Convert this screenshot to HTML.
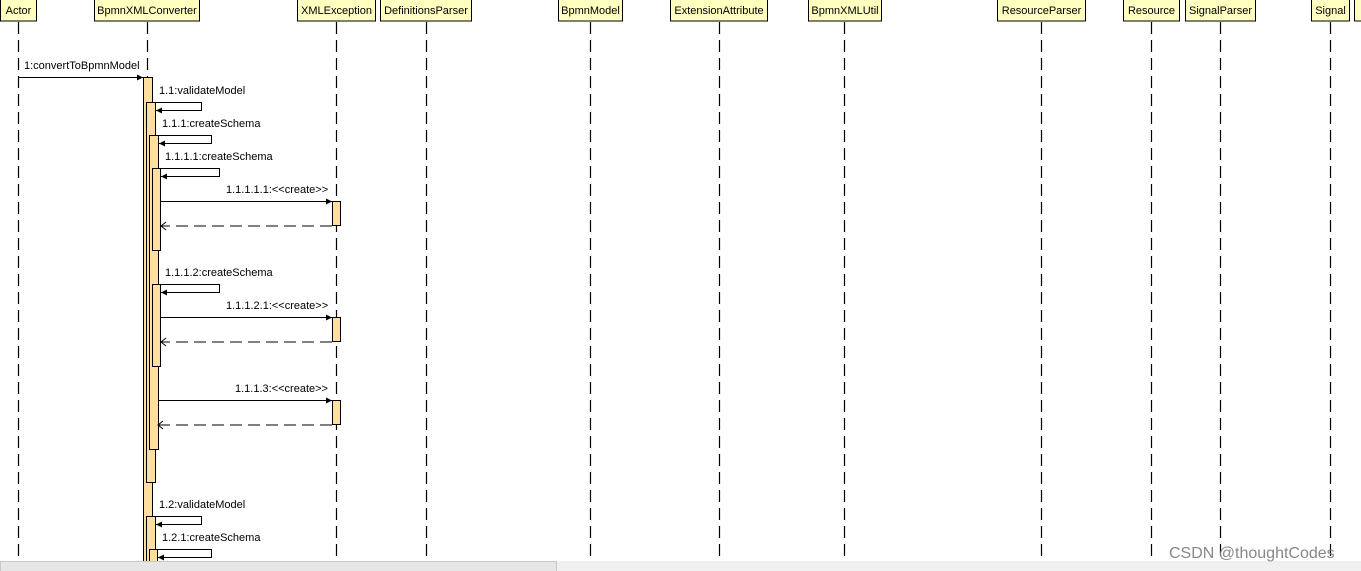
<!DOCTYPE html>
<html><head><meta charset="utf-8"><style>
html,body{margin:0;padding:0;background:#fff;width:1361px;height:571px;overflow:hidden}
svg{display:block}
text{font-family:"Liberation Sans",Arial,sans-serif;font-size:11px;fill:#000}
</style></head><body>
<svg width="1361" height="571" viewBox="0 0 1361 571" xmlns="http://www.w3.org/2000/svg">
<defs>
<marker id="a" markerWidth="7" markerHeight="7" refX="6" refY="3.5" orient="auto" markerUnits="userSpaceOnUse"><path d="M0,0.5 L6,3.5 L0,6.5 Z" fill="#000"/></marker>
<marker id="o" markerWidth="8" markerHeight="9" refX="6" refY="4.5" orient="auto" markerUnits="userSpaceOnUse"><path d="M1,0.5 L6,4.5 L1,8.5" fill="none" stroke="#000"/></marker>
</defs>
<g stroke="#000" stroke-width="1.2" stroke-dasharray="12,6">
<line x1="18.5" y1="22" x2="18.5" y2="561"/>
<line x1="147.5" y1="22" x2="147.5" y2="561"/>
<line x1="336.5" y1="22" x2="336.5" y2="561"/>
<line x1="426.5" y1="22" x2="426.5" y2="561"/>
<line x1="590.5" y1="22" x2="590.5" y2="561"/>
<line x1="719.5" y1="22" x2="719.5" y2="561"/>
<line x1="844.5" y1="22" x2="844.5" y2="561"/>
<line x1="1041.5" y1="22" x2="1041.5" y2="561"/>
<line x1="1151.5" y1="22" x2="1151.5" y2="561"/>
<line x1="1220.5" y1="22" x2="1220.5" y2="561"/>
<line x1="1330.5" y1="22" x2="1330.5" y2="561"/>
</g>
<g fill="#ffffc0" stroke="#000">
<rect x="0.5" y="-1" width="36" height="22"/>
<rect x="94.5" y="-1" width="105" height="22"/>
<rect x="297.5" y="-1" width="78" height="22"/>
<rect x="380.5" y="-1" width="91" height="22"/>
<rect x="558.5" y="-1" width="64" height="22"/>
<rect x="670.5" y="-1" width="97" height="22"/>
<rect x="808.5" y="-1" width="73" height="22"/>
<rect x="997.5" y="-1" width="88" height="22"/>
<rect x="1123.5" y="-1" width="56" height="22"/>
<rect x="1185.5" y="-1" width="70" height="22"/>
<rect x="1311.5" y="-1" width="38" height="22"/>
<rect x="1354.5" y="-1" width="20" height="22"/>
</g>
<g text-anchor="middle" style="font-size:10.5px">
<text x="18.5" y="14">Actor</text>
<text x="147" y="14">BpmnXMLConverter</text>
<text x="336.5" y="14">XMLException</text>
<text x="426" y="14">DefinitionsParser</text>
<text x="590.5" y="14">BpmnModel</text>
<text x="719" y="14">ExtensionAttribute</text>
<text x="845" y="14">BpmnXMLUtil</text>
<text x="1041.5" y="14">ResourceParser</text>
<text x="1151.5" y="14">Resource</text>
<text x="1220.5" y="14">SignalParser</text>
<text x="1330.5" y="14">Signal</text>
</g>
<g fill="#ffdfa0" stroke="#000">
<rect x="143.5" y="77.5" width="9" height="490"/>
<rect x="146.5" y="102.5" width="9" height="380"/>
<rect x="149.5" y="135.5" width="9" height="314"/>
<rect x="152.5" y="168.5" width="8" height="82"/>
<rect x="152.5" y="284.5" width="8" height="82"/>
<rect x="332.5" y="201.5" width="8" height="24"/>
<rect x="332.5" y="317.5" width="8" height="24"/>
<rect x="332.5" y="400.5" width="8" height="24"/>
<rect x="146.5" y="516.5" width="9" height="50"/>
<rect x="149.5" y="549.5" width="8" height="20"/>
</g>
<g stroke="#000" fill="none">
<line x1="19" y1="77.5" x2="143" y2="77.5" marker-end="url(#a)"/>
<polyline points="155.5,102.5 201.5,102.5 201.5,110.5 156,110.5" marker-end="url(#a)"/>
<polyline points="158.5,135.5 211.5,135.5 211.5,143.5 159,143.5" marker-end="url(#a)"/>
<polyline points="160.5,168.5 219.5,168.5 219.5,176.5 161,176.5" marker-end="url(#a)"/>
<line x1="161" y1="201.5" x2="332" y2="201.5" marker-end="url(#a)"/>
<line x1="332" y1="226" x2="161" y2="226" stroke-dasharray="12,6" marker-end="url(#o)"/>
<polyline points="158.5,284.5 219.5,284.5 219.5,292.5 161,292.5" marker-end="url(#a)"/>
<line x1="161" y1="317.5" x2="332" y2="317.5" marker-end="url(#a)"/>
<line x1="332" y1="342" x2="161" y2="342" stroke-dasharray="12,6" marker-end="url(#o)"/>
<line x1="158" y1="400.5" x2="332" y2="400.5" marker-end="url(#a)"/>
<line x1="332" y1="425" x2="158" y2="425" stroke-dasharray="12,6" marker-end="url(#o)"/>
<polyline points="155.5,516.5 201.5,516.5 201.5,524.5 156,524.5" marker-end="url(#a)"/>
<polyline points="157.5,549.5 211.5,549.5 211.5,557.5 158,557.5" marker-end="url(#a)"/>
</g>
<g style="font-size:10.5px">
<text x="24" y="69">1:convertToBpmnModel</text>
<text x="159" y="94">1.1:validateModel</text>
<text x="162" y="127">1.1.1:createSchema</text>
<text x="165" y="160">1.1.1.1:createSchema</text>
<text x="226" y="193">1.1.1.1.1:&lt;&lt;create&gt;&gt;</text>
<text x="165" y="276">1.1.1.2:createSchema</text>
<text x="226" y="309">1.1.1.2.1:&lt;&lt;create&gt;&gt;</text>
<text x="235" y="392">1.1.1.3:&lt;&lt;create&gt;&gt;</text>
<text x="159" y="508">1.2:validateModel</text>
<text x="162" y="541">1.2.1:createSchema</text>
</g>
<rect x="0" y="561" width="1361" height="10" fill="#f0f0f0"/>
<rect x="0.5" y="561.5" width="556" height="10" fill="#e6e6e6" stroke="#c8c8c8"/>
<text x="1169" y="558" style="font-size:16px;fill:#888">CSDN @thoughtCodes</text>
</svg>
</body></html>
